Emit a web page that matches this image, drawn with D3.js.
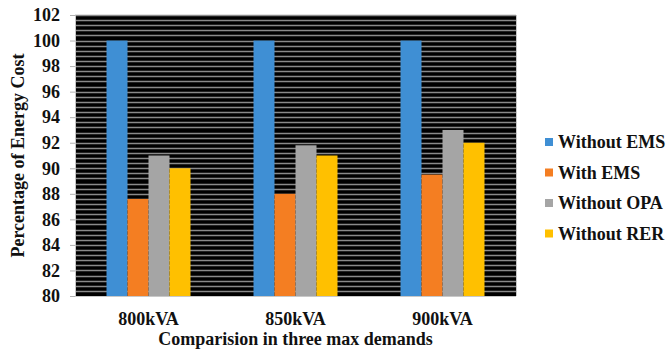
<!DOCTYPE html>
<html>
<head>
<meta charset="utf-8">
<script src="https://cdn.jsdelivr.net/npm/d3@7/dist/d3.min.js"></script>
<style>
  body { margin: 0; background: #fff; }
  text { font-family: "Liberation Serif", "Times New Roman", serif; font-weight: bold; fill: #111; }
</style>
</head>
<body>
<script>
(function(){

    //chart data
    var categories = ["800kVA", "850kVA", "900kVA"];
    var seriesNames = ["Without EMS", "With EMS", "Without OPA", "Without RER"];
    var withoutEMS = [100, 100, 100],
        withEMS = [87.6, 88, 89.5],
        withoutOPA = [91, 91.8, 93],
        withoutRER = [90, 91, 92];
    var seriesValues = [withoutEMS, withEMS, withoutOPA, withoutRER];
    var yTicks = [80, 82, 84, 86, 88, 90, 92, 94, 96, 98, 100, 102];
    var gridStep = 0.4;

    var colors = ["#3f8fd4", "#f47e22", "#a5a5a5", "#ffc000"];

    //frame dimensions
    var width = 667, height = 356,
        left = 75, right = 516, top = 15, bottom = 296;

    var svg = d3.select("body")
        .append("svg")
        .attr("width", width)
        .attr("height", height);

    var y = d3.scaleLinear()
        .domain([80, 102])
        .range([bottom, top]);

    var x0 = d3.scaleBand()
        .domain(categories)
        .range([left, right])
        .paddingInner(0.4286)
        .paddingOuter(0.2143);

    var x1 = d3.scaleBand()
        .domain(seriesNames)
        .range([0, x0.bandwidth()]);

    //black plot background
    svg.append("rect")
        .attr("x", left)
        .attr("y", top)
        .attr("width", right - left)
        .attr("height", bottom - top)
        .style("fill", "#000");

    //dense gray gridlines
    var gridVals = d3.range(80 + gridStep, 102 + 0.001, gridStep);
    svg.append("g")
        .selectAll("line")
        .data(gridVals)
        .enter()
        .append("line")
        .attr("x1", left)
        .attr("x2", right)
        .attr("y1", function(d){ return Math.round(y(d)) + 0.5; })
        .attr("y2", function(d){ return Math.round(y(d)) + 0.5; })
        .style("stroke", "#8a8a8a")
        .style("stroke-width", 1.3);

    //bars
    var groups = svg.selectAll(".group")
        .data(categories)
        .enter()
        .append("g")
        .attr("class", "group")
        .attr("transform", function(d){ return "translate(" + x0(d) + ",0)"; });

    groups.selectAll("rect")
        .data(function(d, i){
            return seriesNames.map(function(s, j){ return {s: s, v: seriesValues[j][i], c: colors[j]}; });
        })
        .enter()
        .append("rect")
        .attr("x", function(d){ return x1(d.s); })
        .attr("width", x1.bandwidth())
        .attr("y", function(d){ return y(d.v); })
        .attr("height", function(d){ return bottom - y(d.v); })
        .style("fill", function(d){ return d.c; });

    //right border and bottom axis line
    svg.append("line")
        .attr("x1", right + 0.5).attr("x2", right + 0.5)
        .attr("y1", top).attr("y2", bottom)
        .style("stroke", "#c8c8c8");
    svg.append("line")
        .attr("x1", left).attr("x2", right)
        .attr("y1", bottom + 0.5).attr("y2", bottom + 0.5)
        .style("stroke", "#c8c8c8");

    //y axis
    var yAxis = d3.axisLeft(y)
        .tickValues(yTicks)
        .tickSize(5)
        .tickPadding(10)
        .tickFormat(d3.format("d"));

    var axis = svg.append("g")
        .attr("transform", "translate(" + left + ",0)")
        .call(yAxis);
    axis.select(".domain").style("stroke", "#c8c8c8");
    axis.selectAll(".tick line").style("stroke", "#b0b0b0");
    axis.selectAll(".tick text")
        .style("font-size", "18px")
        .style("fill", "#111");

    //x axis labels
    var xAxis = d3.axisBottom(x0).tickSize(0).tickPadding(16);
    var xg = svg.append("g")
        .attr("transform", "translate(0," + bottom + ")")
        .call(xAxis);
    xg.select(".domain").remove();
    xg.selectAll(".tick text")
        .style("font-size", "18px")
        .style("fill", "#111");

    //axis titles
    svg.append("text")
        .attr("x", (left + right) / 2)
        .attr("y", 345)
        .attr("text-anchor", "middle")
        .style("font-size", "18px")
        .text("Comparision in three max demands");

    svg.append("text")
        .attr("transform", "translate(24," + (top + bottom) / 2 + ") rotate(-90)")
        .attr("text-anchor", "middle")
        .style("font-size", "18px")
        .text("Percentage of Energy Cost");

    //legend
    var legend = svg.selectAll(".legend")
        .data(seriesNames)
        .enter()
        .append("g")
        .attr("class", "legend")
        .attr("transform", function(d, i){ return "translate(545," + (138 + i * 30.5) + ")"; });

    legend.append("rect")
        .attr("width", 8)
        .attr("height", 8)
        .style("fill", function(d, i){ return colors[i]; });

    legend.append("text")
        .attr("x", 13)
        .attr("y", 10)
        .style("font-size", "18px")
        .text(function(d){ return d; });
})();
</script>
</body>
</html>
